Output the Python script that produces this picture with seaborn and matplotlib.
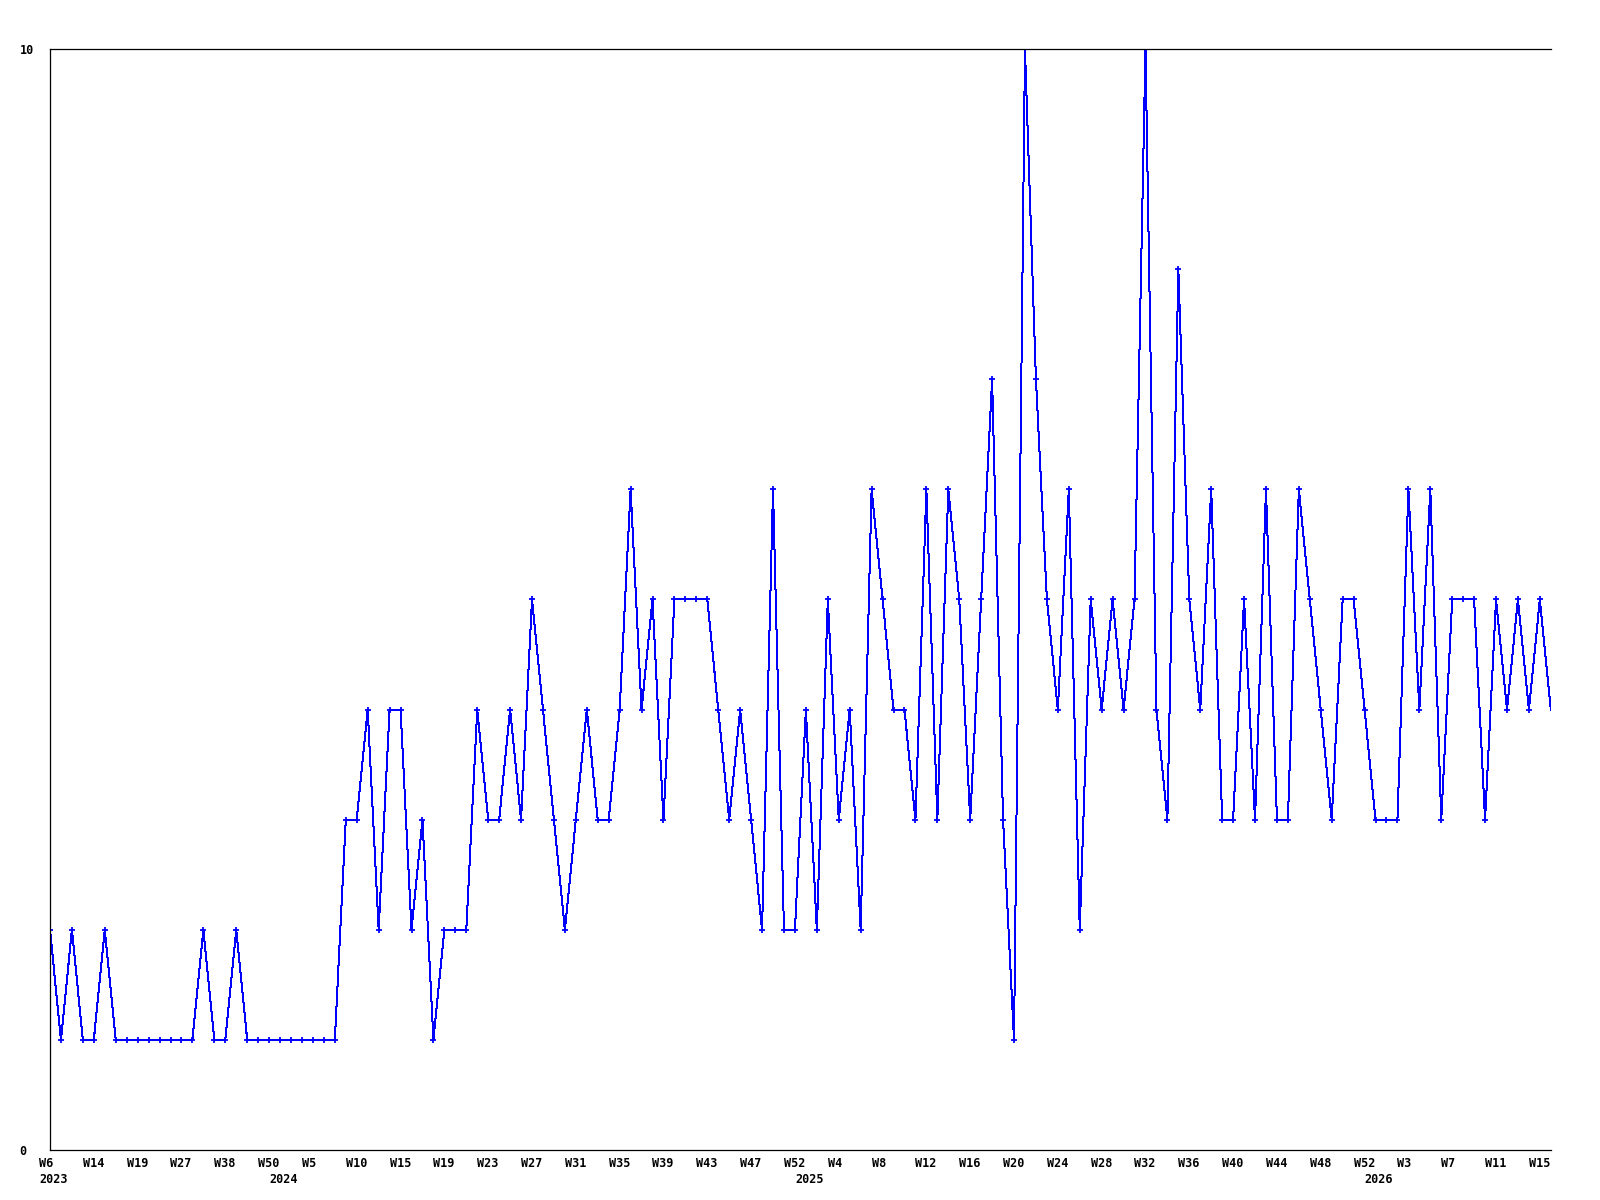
import numpy as np
import pandas as pd
import seaborn as sns
import matplotlib.pyplot as plt
from matplotlib.transforms import ScaledTranslation

sns.set_style('white')
plt.rcParams['font.family'] = ['DejaVu Sans Mono', 'DejaVu Sans']
plt.rcParams['text.color'] = 'black'
plt.rcParams['xtick.color'] = 'black'
plt.rcParams['ytick.color'] = 'black'

# weekly counts, one entry per week that has data
values = [2, 1, 2, 1, 1, 2, 1, 1, 1, 1, 1, 1, 1, 1, 2, 1, 1, 2, 1, 1,
          1, 1, 1, 1, 1, 1, 1, 3, 3, 4, 2, 4, 4, 2, 3, 1, 2, 2, 2, 4,
          3, 3, 4, 3, 5, 4, 3, 2, 3, 4, 3, 3, 4, 6, 4, 5, 3, 5, 5, 5,
          5, 4, 3, 4, 3, 2, 6, 2, 2, 4, 2, 5, 3, 4, 2, 6, 5, 4, 4, 3,
          6, 3, 6, 5, 3, 5, 7, 3, 1, 10, 7, 5, 4, 6, 2, 5, 4, 5, 4, 5,
          10, 4, 3, 8, 5, 4, 6, 3, 3, 5, 3, 6, 3, 3, 6, 5, 4, 3, 5, 5,
          4, 3, 3, 3, 6, 4, 6, 3, 5, 5, 5, 3, 5, 4, 5, 4, 5, 4]

# tick labels, one every 4th week
week_labels = ['W6', 'W14', 'W19', 'W27', 'W38', 'W50', 'W5', 'W10', 'W15',
               'W19', 'W23', 'W27', 'W31', 'W35', 'W39', 'W43', 'W47', 'W52',
               'W4', 'W8', 'W12', 'W16', 'W20', 'W24', 'W28', 'W32', 'W36',
               'W40', 'W44', 'W48', 'W52', 'W3', 'W7', 'W11', 'W15']
years = ['2023', '2024', '2025', '2026']
year_pos = [0, 21, 69, 121]

df = pd.DataFrame({'idx': np.arange(len(values)), 'count': values})

fig = plt.figure(figsize=(16, 12), dpi=100)
ax = fig.add_axes([0.03125, 0.0417, 0.938, 0.9175])

# last week is still open, so no marker on it
sns.lineplot(data=df, x='idx', y='count', ax=ax, color='#0000ff',
             linewidth=0.72, marker='+', markersize=4.5,
             markeredgewidth=1.3, markeredgecolor='#0000ff',
             markevery=list(range(len(values) - 1)), antialiased=False)

ax.set_xlim(0, len(values) - 1)
ax.set_ylim(0, 10)
ax.set_xlabel('')
ax.set_ylabel('')

for s in ['left', 'top', 'bottom']:
    ax.spines[s].set_color('black')
    ax.spines[s].set_linewidth(0.9)
ax.spines['right'].set_visible(False)

ax.set_yticks([0, 10])
ax.set_yticklabels(['0', '10'], fontsize=8.5, fontweight='bold', ha='left',
                   color='black')
ax.tick_params(axis='y', length=0, pad=22)

ticks = list(range(0, len(values), 4))
ax.set_xticks(ticks)
ax.set_xticklabels(week_labels, fontsize=8.5, fontweight='bold', ha='left',
                   color='black')
ax.tick_params(axis='x', length=0, pad=5)
shift = ScaledTranslation(-11 / 100, 0, fig.dpi_scale_trans)
for lab in ax.get_xticklabels():
    lab.set_transform(lab.get_transform() + shift)

trans = ax.get_xaxis_transform() + shift
for y, p in zip(years, year_pos):
    ax.text(p, -0.021, y, transform=trans, fontsize=8.5, fontweight='bold',
            ha='left', va='top', color='black')

fig.savefig('out.png', dpi=100, facecolor='white')
